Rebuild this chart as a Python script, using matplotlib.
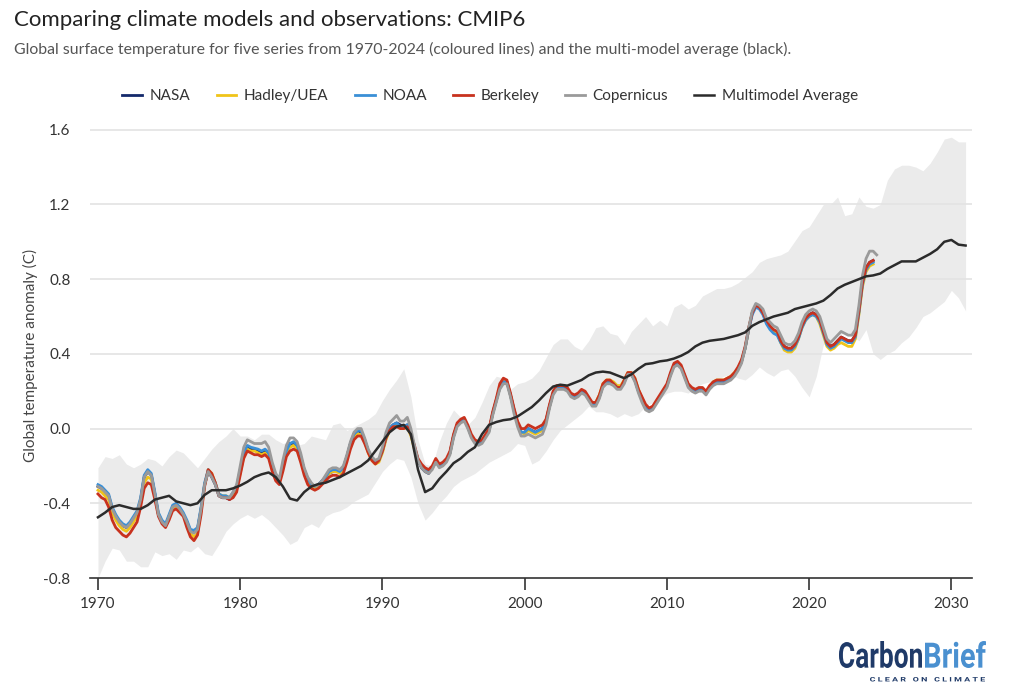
import numpy as np
import matplotlib
matplotlib.use("Agg")
import matplotlib.pyplot as plt
from matplotlib.textpath import TextPath
from matplotlib.patches import PathPatch
from matplotlib.font_manager import FontProperties
from matplotlib.transforms import Affine2D, IdentityTransform

# =========================================================================== #
# data

# observations, quarterly from 1970.0 (Copernicus runs one quarter longer)
nasa = [
    -0.31, -0.32, -0.34, -0.36, -0.43, -0.47, -0.50, -0.52,
    -0.53, -0.51, -0.48, -0.45, -0.38, -0.26, -0.23, -0.25,
    -0.35, -0.46, -0.50, -0.52, -0.47, -0.42, -0.41, -0.43,
    -0.46, -0.50, -0.55, -0.55, -0.54, -0.43, -0.30, -0.23,
    -0.26, -0.30, -0.36, -0.37, -0.37, -0.38, -0.35, -0.32,
    -0.23, -0.14, -0.10, -0.11, -0.11, -0.12, -0.13, -0.12,
    -0.14, -0.21, -0.26, -0.28, -0.20, -0.12, -0.08, -0.08,
    -0.10, -0.15, -0.22, -0.27, -0.30, -0.31, -0.30, -0.28,
    -0.26, -0.24, -0.23, -0.22, -0.23, -0.21, -0.15, -0.08,
    -0.03, -0.01, -0.02, -0.06, -0.12, -0.16, -0.18, -0.17,
    -0.12, -0.05, 0.00, 0.02, 0.03, 0.02, 0.01, 0.02,
    -0.03, -0.10, -0.17, -0.21, -0.23, -0.24, -0.21, -0.18,
    -0.20, -0.19, -0.17, -0.13, -0.04, 0.02, 0.04, 0.05,
    0.01, -0.04, -0.07, -0.08, -0.07, -0.04, -0.01, 0.08,
    0.15, 0.22, 0.25, 0.25, 0.18, 0.10, 0.03, -0.02,
    -0.02, 0.00, -0.01, -0.02, -0.01, 0.00, 0.04, 0.12,
    0.19, 0.22, 0.22, 0.22, 0.21, 0.18, 0.17, 0.18,
    0.20, 0.19, 0.16, 0.13, 0.13, 0.17, 0.23, 0.25,
    0.25, 0.24, 0.22, 0.22, 0.25, 0.29, 0.29, 0.26,
    0.20, 0.16, 0.12, 0.10, 0.11, 0.14, 0.17, 0.20,
    0.23, 0.29, 0.34, 0.35, 0.33, 0.28, 0.23, 0.21,
    0.20, 0.21, 0.21, 0.19, 0.22, 0.24, 0.25, 0.25,
    0.25, 0.26, 0.27, 0.29, 0.32, 0.36, 0.43, 0.53,
    0.62, 0.66, 0.65, 0.62, 0.57, 0.54, 0.52, 0.51,
    0.47, 0.44, 0.43, 0.43, 0.45, 0.49, 0.55, 0.59,
    0.61, 0.62, 0.61, 0.58, 0.52, 0.46, 0.44, 0.45,
    0.47, 0.49, 0.48, 0.47, 0.47, 0.50, 0.63, 0.78,
    0.86, 0.89, 0.90,
]
hadley = [
    -0.33, -0.34, -0.36, -0.38, -0.45, -0.49, -0.52, -0.54,
    -0.55, -0.53, -0.50, -0.47, -0.40, -0.29, -0.26, -0.27,
    -0.36, -0.46, -0.50, -0.52, -0.48, -0.43, -0.42, -0.44,
    -0.46, -0.51, -0.56, -0.58, -0.56, -0.44, -0.30, -0.22,
    -0.24, -0.29, -0.35, -0.36, -0.36, -0.37, -0.35, -0.32,
    -0.24, -0.15, -0.11, -0.12, -0.12, -0.13, -0.14, -0.13,
    -0.15, -0.21, -0.27, -0.29, -0.21, -0.13, -0.10, -0.09,
    -0.11, -0.17, -0.23, -0.28, -0.31, -0.32, -0.31, -0.29,
    -0.27, -0.24, -0.23, -0.23, -0.24, -0.22, -0.16, -0.10,
    -0.05, -0.03, -0.03, -0.07, -0.13, -0.17, -0.19, -0.18,
    -0.13, -0.06, -0.01, 0.01, 0.02, 0.00, 0.00, 0.01,
    -0.04, -0.11, -0.17, -0.20, -0.22, -0.23, -0.21, -0.17,
    -0.20, -0.19, -0.17, -0.13, -0.04, 0.02, 0.04, 0.05,
    0.01, -0.04, -0.07, -0.08, -0.07, -0.04, -0.01, 0.08,
    0.15, 0.22, 0.25, 0.25, 0.18, 0.10, 0.03, -0.02,
    -0.03, -0.01, -0.02, -0.03, -0.02, -0.01, 0.04, 0.12,
    0.19, 0.22, 0.22, 0.22, 0.21, 0.18, 0.17, 0.18,
    0.20, 0.19, 0.16, 0.13, 0.14, 0.18, 0.24, 0.26,
    0.26, 0.25, 0.23, 0.23, 0.26, 0.30, 0.30, 0.27,
    0.21, 0.16, 0.12, 0.10, 0.11, 0.14, 0.17, 0.20,
    0.23, 0.29, 0.34, 0.35, 0.33, 0.28, 0.23, 0.21,
    0.20, 0.21, 0.21, 0.19, 0.22, 0.25, 0.26, 0.26,
    0.26, 0.27, 0.28, 0.30, 0.32, 0.36, 0.43, 0.53,
    0.62, 0.66, 0.65, 0.62, 0.57, 0.54, 0.52, 0.51,
    0.46, 0.42, 0.41, 0.41, 0.43, 0.48, 0.54, 0.58,
    0.60, 0.61, 0.60, 0.56, 0.50, 0.44, 0.42, 0.43,
    0.45, 0.46, 0.45, 0.44, 0.44, 0.48, 0.61, 0.76,
    0.84, 0.87, 0.88,
]
noaa = [
    -0.30, -0.31, -0.33, -0.35, -0.42, -0.46, -0.49, -0.51,
    -0.52, -0.50, -0.47, -0.44, -0.37, -0.25, -0.22, -0.24,
    -0.34, -0.45, -0.49, -0.51, -0.46, -0.41, -0.40, -0.42,
    -0.45, -0.49, -0.54, -0.545, -0.53, -0.42, -0.29, -0.22,
    -0.25, -0.29, -0.35, -0.36, -0.36, -0.37, -0.34, -0.31,
    -0.22, -0.13, -0.09, -0.10, -0.105, -0.11, -0.12, -0.11,
    -0.13, -0.20, -0.26, -0.28, -0.20, -0.12, -0.08, -0.07,
    -0.09, -0.15, -0.22, -0.27, -0.30, -0.31, -0.30, -0.28,
    -0.26, -0.23, -0.22, -0.22, -0.23, -0.21, -0.15, -0.08,
    -0.03, -0.01, -0.01, -0.06, -0.12, -0.16, -0.18, -0.17,
    -0.12, -0.05, 0.00, 0.02, 0.03, 0.01, 0.01, 0.02,
    -0.03, -0.10, -0.17, -0.20, -0.22, -0.23, -0.21, -0.17,
    -0.20, -0.19, -0.17, -0.13, -0.04, 0.02, 0.04, 0.05,
    0.01, -0.04, -0.07, -0.08, -0.07, -0.04, -0.01, 0.08,
    0.15, 0.22, 0.25, 0.25, 0.18, 0.10, 0.03, -0.02,
    -0.02, 0.00, -0.01, -0.02, -0.01, 0.00, 0.04, 0.12,
    0.19, 0.22, 0.22, 0.22, 0.21, 0.18, 0.17, 0.18,
    0.20, 0.19, 0.16, 0.13, 0.13, 0.17, 0.23, 0.25,
    0.25, 0.24, 0.22, 0.22, 0.25, 0.29, 0.29, 0.26,
    0.20, 0.16, 0.12, 0.10, 0.11, 0.14, 0.17, 0.20,
    0.23, 0.29, 0.34, 0.35, 0.33, 0.28, 0.23, 0.21,
    0.20, 0.21, 0.21, 0.19, 0.22, 0.24, 0.25, 0.245,
    0.25, 0.26, 0.27, 0.29, 0.32, 0.36, 0.43, 0.53,
    0.61, 0.65, 0.64, 0.61, 0.56, 0.53, 0.51, 0.50,
    0.46, 0.43, 0.42, 0.42, 0.44, 0.48, 0.54, 0.58,
    0.60, 0.61, 0.60, 0.57, 0.51, 0.45, 0.43, 0.44,
    0.46, 0.48, 0.47, 0.46, 0.46, 0.49, 0.62, 0.77,
    0.85, 0.88, 0.89,
]
berkeley = [
    -0.35, -0.37, -0.38, -0.42, -0.49, -0.53, -0.55, -0.57,
    -0.58, -0.56, -0.53, -0.50, -0.42, -0.32, -0.29, -0.30,
    -0.38, -0.47, -0.51, -0.53, -0.49, -0.44, -0.43, -0.45,
    -0.47, -0.53, -0.58, -0.60, -0.57, -0.46, -0.31, -0.22,
    -0.24, -0.29, -0.36, -0.37, -0.37, -0.38, -0.37, -0.34,
    -0.25, -0.16, -0.12, -0.13, -0.14, -0.14, -0.15, -0.14,
    -0.16, -0.23, -0.28, -0.30, -0.23, -0.15, -0.12, -0.11,
    -0.12, -0.18, -0.25, -0.30, -0.32, -0.33, -0.32, -0.30,
    -0.28, -0.26, -0.25, -0.25, -0.26, -0.24, -0.18, -0.11,
    -0.06, -0.04, -0.04, -0.08, -0.13, -0.17, -0.19, -0.17,
    -0.12, -0.05, -0.01, 0.01, 0.01, 0.00, 0.00, 0.01,
    -0.03, -0.09, -0.16, -0.19, -0.21, -0.22, -0.20, -0.16,
    -0.19, -0.18, -0.16, -0.12, -0.03, 0.03, 0.05, 0.06,
    0.02, -0.03, -0.06, -0.07, -0.06, -0.03, 0.00, 0.09,
    0.16, 0.24, 0.27, 0.26, 0.19, 0.11, 0.04, 0.00,
    0.00, 0.02, 0.01, 0.00, 0.01, 0.02, 0.05, 0.13,
    0.20, 0.23, 0.23, 0.23, 0.22, 0.19, 0.18, 0.19,
    0.21, 0.20, 0.17, 0.14, 0.14, 0.18, 0.24, 0.26,
    0.26, 0.24, 0.22, 0.22, 0.26, 0.30, 0.30, 0.27,
    0.21, 0.17, 0.13, 0.11, 0.12, 0.15, 0.18, 0.21,
    0.24, 0.30, 0.35, 0.36, 0.34, 0.29, 0.24, 0.22,
    0.21, 0.22, 0.22, 0.20, 0.23, 0.25, 0.26, 0.26,
    0.26, 0.27, 0.28, 0.30, 0.33, 0.37, 0.44, 0.54,
    0.62, 0.66, 0.65, 0.62, 0.58, 0.55, 0.53, 0.52,
    0.47, 0.44, 0.43, 0.43, 0.45, 0.49, 0.55, 0.59,
    0.61, 0.62, 0.61, 0.58, 0.52, 0.46, 0.44, 0.45,
    0.47, 0.49, 0.48, 0.47, 0.47, 0.50, 0.63, 0.78,
    0.86, 0.89, 0.90,
]
copernicus = [
    -0.31, -0.32, -0.34, -0.36, -0.43, -0.47, -0.50, -0.52,
    -0.53, -0.51, -0.48, -0.45, -0.38, -0.26, -0.23, -0.25,
    -0.35, -0.46, -0.50, -0.52, -0.47, -0.42, -0.41, -0.43,
    -0.46, -0.50, -0.55, -0.56, -0.54, -0.43, -0.30, -0.23,
    -0.26, -0.30, -0.36, -0.37, -0.37, -0.37, -0.34, -0.30,
    -0.20, -0.10, -0.06, -0.07, -0.08, -0.08, -0.08, -0.07,
    -0.10, -0.18, -0.24, -0.27, -0.17, -0.09, -0.05, -0.05,
    -0.07, -0.13, -0.21, -0.26, -0.29, -0.31, -0.30, -0.28,
    -0.25, -0.22, -0.21, -0.21, -0.22, -0.20, -0.14, -0.07,
    -0.02, 0.00, 0.00, -0.05, -0.11, -0.15, -0.17, -0.16,
    -0.10, -0.02, 0.03, 0.05, 0.07, 0.04, 0.04, 0.06,
    0.00, -0.09, -0.17, -0.21, -0.23, -0.24, -0.22, -0.18,
    -0.21, -0.20, -0.18, -0.14, -0.05, 0.01, 0.03, 0.04,
    0.00, -0.05, -0.08, -0.09, -0.08, -0.05, -0.02, 0.07,
    0.14, 0.21, 0.24, 0.24, 0.17, 0.08, 0.01, -0.04,
    -0.04, -0.03, -0.04, -0.05, -0.04, -0.03, 0.02, 0.11,
    0.18, 0.21, 0.21, 0.21, 0.20, 0.17, 0.16, 0.17,
    0.19, 0.18, 0.15, 0.12, 0.12, 0.16, 0.22, 0.24,
    0.24, 0.23, 0.21, 0.21, 0.24, 0.29, 0.29, 0.25,
    0.19, 0.14, 0.10, 0.09, 0.10, 0.13, 0.16, 0.19,
    0.22, 0.28, 0.33, 0.34, 0.32, 0.27, 0.22, 0.20,
    0.19, 0.20, 0.20, 0.18, 0.21, 0.23, 0.24, 0.24,
    0.24, 0.25, 0.26, 0.28, 0.31, 0.35, 0.43, 0.54,
    0.63, 0.67, 0.66, 0.64, 0.59, 0.57, 0.55, 0.54,
    0.50, 0.46, 0.45, 0.45, 0.47, 0.51, 0.57, 0.61,
    0.63, 0.64, 0.63, 0.60, 0.54, 0.48, 0.46, 0.48,
    0.50, 0.52, 0.51, 0.50, 0.50, 0.53, 0.66, 0.82,
    0.91, 0.95, 0.95, 0.93,
]

# CMIP6 multi-model average and range, half-yearly 1970.0 - 2031.0
model_mean = [
    -0.475, -0.45, -0.42, -0.41, -0.42, -0.43, -0.43, -0.41, -0.38, -0.37,
    -0.36, -0.39, -0.40, -0.41, -0.40, -0.355, -0.33, -0.33, -0.33, -0.32,
    -0.305, -0.285, -0.26, -0.245, -0.235, -0.26, -0.31, -0.375, -0.385, -0.34,
    -0.31, -0.297, -0.29, -0.275, -0.26, -0.24, -0.22, -0.20, -0.17, -0.12,
    -0.07, -0.02, 0.01, 0.02, -0.03, -0.22, -0.34, -0.32, -0.27, -0.23,
    -0.185, -0.16, -0.125, -0.10, -0.03, 0.02, 0.035, 0.045, 0.05, 0.065,
    0.09, 0.115, 0.15, 0.19, 0.225, 0.235, 0.23, 0.245, 0.26, 0.285,
    0.30, 0.305, 0.30, 0.285, 0.27, 0.29, 0.32, 0.345, 0.35, 0.36,
    0.365, 0.375, 0.39, 0.41, 0.44, 0.46, 0.47, 0.475, 0.48, 0.49,
    0.50, 0.515, 0.55, 0.57, 0.585, 0.60, 0.61, 0.62, 0.64, 0.65,
    0.66, 0.67, 0.685, 0.715, 0.75, 0.77, 0.785, 0.80, 0.815, 0.82,
    0.83, 0.855, 0.875, 0.895, 0.895, 0.895, 0.915, 0.935, 0.96, 1.00,
    1.01, 0.985, 0.98,
]
model_high = [
    -0.21, -0.15, -0.16, -0.14, -0.19, -0.21, -0.19, -0.16, -0.17, -0.20,
    -0.15, -0.115, -0.13, -0.17, -0.21, -0.16, -0.11, -0.07, -0.04, 0.00,
    -0.04, -0.04, -0.06, -0.03, -0.03, -0.06, -0.08, -0.07, -0.09, -0.08,
    -0.04, -0.05, -0.06, 0.02, 0.03, -0.01, 0.01, 0.03, 0.05, 0.08,
    0.15, 0.21, 0.26, 0.32, 0.17, -0.06, -0.19, -0.20, -0.07, 0.03,
    0.10, 0.06, 0.02, 0.06, 0.14, 0.23, 0.28, 0.27, 0.21, 0.24,
    0.25, 0.27, 0.31, 0.38, 0.45, 0.48, 0.48, 0.44, 0.42, 0.47,
    0.54, 0.55, 0.51, 0.50, 0.45, 0.52, 0.56, 0.60, 0.55, 0.58,
    0.55, 0.65, 0.67, 0.64, 0.66, 0.71, 0.73, 0.75, 0.75, 0.76,
    0.78, 0.81, 0.84, 0.89, 0.91, 0.92, 0.93, 0.95, 1.005, 1.06,
    1.08, 1.14, 1.20, 1.20, 1.24, 1.14, 1.15, 1.24, 1.19, 1.18,
    1.20, 1.33, 1.39, 1.41, 1.41, 1.40, 1.38, 1.42, 1.48, 1.55,
    1.56, 1.535, 1.535,
]
model_low = [
    -0.80, -0.71, -0.64, -0.65, -0.71, -0.71, -0.74, -0.74, -0.66, -0.68,
    -0.67, -0.70, -0.65, -0.66, -0.63, -0.67, -0.68, -0.62, -0.55, -0.51,
    -0.48, -0.46, -0.48, -0.46, -0.49, -0.53, -0.57, -0.62, -0.60, -0.53,
    -0.51, -0.53, -0.47, -0.45, -0.44, -0.42, -0.39, -0.37, -0.35, -0.29,
    -0.23, -0.19, -0.16, -0.17, -0.26, -0.40, -0.49, -0.45, -0.40, -0.36,
    -0.31, -0.28, -0.26, -0.24, -0.21, -0.18, -0.16, -0.14, -0.12, -0.08,
    -0.09, -0.19, -0.17, -0.12, -0.06, -0.01, 0.02, 0.05, 0.08, 0.12,
    0.09, 0.09, 0.08, 0.06, 0.08, 0.065, 0.08, 0.12, 0.14, 0.16,
    0.19, 0.20, 0.20, 0.19, 0.22, 0.24, 0.25, 0.26, 0.28, 0.29,
    0.27, 0.26, 0.29, 0.33, 0.30, 0.28, 0.31, 0.32, 0.28, 0.22,
    0.17, 0.28, 0.45, 0.47, 0.50, 0.51, 0.50, 0.47, 0.53, 0.40,
    0.37, 0.40, 0.42, 0.46, 0.49, 0.54, 0.60, 0.62, 0.65, 0.68,
    0.74, 0.70, 0.63,
]

obs_years = 1970 + 0.25 * np.arange(len(nasa))
cop_years = 1970 + 0.25 * np.arange(len(copernicus))
model_years = 1970 + 0.5 * np.arange(len(model_mean))

series = [
    ("NASA", nasa, "#14296b"),
    ("Hadley/UEA", hadley, "#f0c419"),
    ("NOAA", noaa, "#3a8fd6"),
    ("Berkeley", berkeley, "#c8321e"),
]

# =========================================================================== #

plt.rcParams['font.family'] = ['Lato', 'DejaVu Sans']
plt.rcParams['axes.unicode_minus'] = False

W, H = 1024, 696
fig = plt.figure(figsize=(W / 100, H / 100), dpi=100)

def fx (px) :
    return px / W

def fy (py) :
    return 1 - py / H

ax = fig.add_axes([fx(90), fy(578), fx(972) - fx(90), fy(126) - fy(578)])

ax.fill_between(model_years, model_low, model_high, color="#ebebeb", lw=0, zorder=1)
for v in [-0.4, 0.0, 0.4, 0.8, 1.2, 1.6] :
    ax.axhline(v, color="#e3e3e3", lw=1.2, zorder=1.5)

handles = []
for name, vals, col in series :
    h, = ax.plot(obs_years, vals, color=col, lw=2.0, label=name, zorder=3)
    handles.append(h)
h, = ax.plot(cop_years, copernicus, color="#9a9a9a", lw=2.0, label="Copernicus", zorder=3)
handles.append(h)
h, = ax.plot(model_years, model_mean, color="#2b2b2b", lw=1.8, label="Multimodel Average", zorder=4)
handles.append(h)

ax.set_xlim(1969.44, 2031.45)
ax.set_ylim(-0.8, 1.62)
ax.set_xticks(range(1970, 2031, 10))
ax.set_yticks([-0.8, -0.4, 0.0, 0.4, 0.8, 1.2, 1.6])
ax.set_yticklabels(["%.1f" % v for v in [-0.8, -0.4, 0.0, 0.4, 0.8, 1.2, 1.6]])

for s in ["top", "right", "left"] :
    ax.spines[s].set_visible(False)
ax.spines["bottom"].set_color("#333333")
ax.spines["bottom"].set_linewidth(1.2)
ax.tick_params(axis="x", length=8.5, width=1.2, color="#333333", labelsize=11, labelcolor="#333333", pad=5)
ax.tick_params(axis="y", length=0, labelsize=11, labelcolor="#333333", pad=14)

ax.set_ylabel("Global temperature anomaly (C)", fontsize=11, color="#444444")
ax.yaxis.set_label_coords(-0.059, 0.493)

fig.text(fx(14), fy(20), "Comparing climate models and observations: CMIP6",
         fontsize=16, color="#222222", va="center")
fig.text(fx(14), fy(49), "Global surface temperature for five series from 1970-2024 (coloured lines) "
         "and the multi-model average (black).", fontsize=11.4, color="#555555", va="center")

fig.legend(handles=handles, loc="center", bbox_to_anchor=(fx(490), fy(96)), ncol=6,
           frameon=False, fontsize=11, handlelength=1.3, handletextpad=0.5,
           columnspacing=1.7, labelcolor="#333333")

# logo, squeezed text paths placed in pixel coordinates
def logo_word (text, x0, x1, top, bottom, color, weight="bold") :
    tp = TextPath((0, 0), text, size=40, prop=FontProperties(family="Roboto", weight=weight))
    bb = tp.get_extents()
    tr = (Affine2D().translate(-bb.x0, -bb.y0)
          .scale((x1 - x0) / bb.width, (bottom - top) / bb.height)
          .translate(x0, H - bottom))
    fig.add_artist(PathPatch(tr.transform_path(tp), transform=IdentityTransform(),
                             facecolor=color, edgecolor="none"))

logo_word("Carbon", 839, 922, 641, 668, "#1f3a68")
logo_word("Brief", 925, 986, 641, 668, "#4a90d0")
logo_word("C L E A R   O N   C L I M A T E", 870, 985, 677, 681.5, "#1f3a68")

fig.savefig("out.png", dpi=100)
